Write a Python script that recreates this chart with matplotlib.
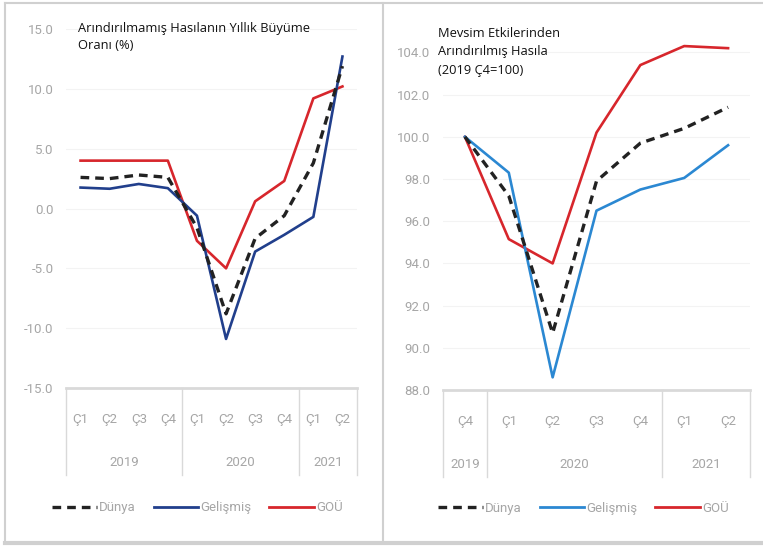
# Two panel chart: annual growth and seasonally adjusted output.

import matplotlib
matplotlib.use("Agg")
from matplotlib import pyplot as plt
from matplotlib import font_manager
from matplotlib.lines import Line2D

W, H = 763, 547

# left panel data (yearly growth, %)
cats_left = ["Ç1", "Ç2", "Ç3", "Ç4", "Ç1", "Ç2", "Ç3", "Ç4", "Ç1", "Ç2"]
years_left = ["2019", "2020", "2021"]
years_left_pos = [1.5, 5.5, 8.5]
dividers_left = [-0.5, 3.5, 7.5, 9.5]
dunya_yoy = [2.6, 2.5, 2.8, 2.6, -1.6, -8.8, -2.5, -0.6, 3.8, 11.9]
gelismis_yoy = [1.75, 1.65, 2.05, 1.7, -0.6, -10.9, -3.6, -2.2, -0.7, 12.7]
gou_yoy = [4.0, 4.0, 4.0, 4.0, -2.7, -5.0, 0.6, 2.3, 9.2, 10.2]
yticks_left = [-15, -10, -5, 0, 5, 10, 15]

# right panel data (2019 Ç4 = 100)
cats_right = ["Ç4", "Ç1", "Ç2", "Ç3", "Ç4", "Ç1", "Ç2"]
years_right = ["2019", "2020", "2021"]
years_right_pos = [0, 2.5, 5.5]
dividers_right = [-0.5, 0.5, 4.5, 6.5]
dunya_sa = [100.0, 97.2, 90.7, 97.9, 99.7, 100.4, 101.4]
gelismis_sa = [100.0, 98.3, 88.6, 96.5, 97.5, 98.05, 99.6]
gou_sa = [100.0, 95.15, 94.0, 100.2, 103.4, 104.3, 104.2]
yticks_right = [88, 90, 92, 94, 96, 98, 100, 102, 104]

installed = {f.name for f in font_manager.fontManager.ttflist}
if "Liberation Sans Narrow" in installed:
    TICK_FONT = ["Liberation Sans Narrow", "DejaVu Sans"]
    TICK_SIZE = 10
else:
    TICK_FONT = ["Roboto", "DejaVu Sans"]
    TICK_SIZE = 9.5
TITLE_FONT = ["Open Sans", "DejaVu Sans"]
GRAY = "#a6a6a6"
RED = "#d7262c"
NAVY = "#213f8c"
BLUE = "#2b88d2"
BLACK = "#222222"
DASH = (2.6, 1.8)


def px_axes(x0, y0, x1, y1):
    """Axes rectangle from pixel box (top-left origin)."""
    return [x0 / W, 1 - y1 / H, (x1 - x0) / W, (y1 - y0) / H]


def style_panel(ax, n, cats, years, years_pos, dividers, yticks, height_px):
    ax.set_xlim(-0.5, n - 0.5)
    for s in ["left", "right", "top"]:
        ax.spines[s].set_visible(False)
    ax.spines["bottom"].set_color("#d9d9d9")
    ax.spines["bottom"].set_linewidth(2)
    ax.set_xticks([])
    ax.set_yticks(yticks)
    ax.set_yticklabels([f"{v:.1f}" for v in yticks], family=TICK_FONT,
                       fontsize=TICK_SIZE, color=GRAY)
    ax.tick_params(axis="y", length=0, pad=9)
    for y in yticks:
        ax.axhline(y, color="#f3f3f3", lw=0.8, zorder=0)
    tr = ax.get_xaxis_transform()
    for i, c in enumerate(cats):
        ax.text(i, -32 / height_px, c, transform=tr, ha="center", va="center",
                family=TICK_FONT, fontsize=TICK_SIZE, color=GRAY)
    for x, y in zip(years_pos, years):
        ax.text(x, -74 / height_px, y, transform=tr, ha="center", va="center",
                family=TICK_FONT, fontsize=TICK_SIZE, color=GRAY)
    for d in dividers:
        ax.plot([d, d], [0, -87 / height_px], transform=tr, color="#d9d9d9",
                lw=1, clip_on=False)


def legend(ax, gel_color, x, y):
    handles = [
        Line2D([], [], color=BLACK, lw=2.4, dashes=DASH),
        Line2D([], [], color=gel_color, lw=2.0),
        Line2D([], [], color=RED, lw=2.0),
    ]
    leg = ax.legend(handles, ["Dünya", "Gelişmiş", "GOÜ"], loc="center",
                    bbox_to_anchor=(x, y), ncol=3, frameon=False,
                    handlelength=3.4, handletextpad=0.15, columnspacing=1.35,
                    prop={"family": TICK_FONT, "size": TICK_SIZE})
    for t in leg.get_texts():
        t.set_color(GRAY)


fig = plt.figure(figsize=(W / 100, H / 100), dpi=100)

# left panel
ax1 = fig.add_axes(px_axes(66, 29, 357, 388))
ax1.set_ylim(-15, 15)
x1 = range(len(cats_left))
ax1.plot(x1, gou_yoy, color=RED, lw=1.9, zorder=3)
ax1.plot(x1, gelismis_yoy, color=NAVY, lw=1.9, zorder=4)
ax1.plot(x1, dunya_yoy, color=BLACK, lw=2.4, dashes=DASH, zorder=5)
style_panel(ax1, len(cats_left), cats_left, years_left, years_left_pos,
            dividers_left, yticks_left, 359)
ax1.text(78 / W, 1 - 37 / H, "Arındırılmamış Hasılanın Yıllık Büyüme\nOranı (%)",
         transform=fig.transFigure, ha="left", va="center", family=TITLE_FONT,
         fontsize=9.3, color="#111111", linespacing=1.45)
legend(ax1, NAVY, 0.452, -0.334)

# right panel
ax2 = fig.add_axes(px_axes(443, 30, 750, 390))
ax2.set_ylim(88, 88 + 360 / 21.1)
x2 = range(len(cats_right))
ax2.plot(x2, gou_sa, color=RED, lw=1.9, zorder=3, clip_on=False)
ax2.plot(x2, gelismis_sa, color=BLUE, lw=1.9, zorder=4, clip_on=False)
ax2.plot(x2, dunya_sa, color=BLACK, lw=2.4, dashes=DASH, zorder=5)
style_panel(ax2, len(cats_right), cats_right, years_right, years_right_pos,
            dividers_right, yticks_right, 360)
ax2.text(438 / W, 1 - 52 / H, "Mevsim Etkilerinden\nArındırılmış Hasıla\n(2019 Ç4=100)",
         transform=fig.transFigure, ha="left", va="center", family=TITLE_FONT,
         fontsize=9.3, color="#111111", linespacing=1.55)
legend(ax2, BLUE, 0.458, -0.328)

# panel frames
frame = dict(transform=fig.transFigure, color="#d0d0d0")
fig.add_artist(Line2D([5 / W, 1], [1 - 3 / H, 1 - 3 / H], lw=1.5, **frame))
fig.add_artist(Line2D([5 / W, 1], [1 - 543 / H, 1 - 543 / H], lw=3, **frame))
fig.add_artist(Line2D([5 / W, 5 / W], [1 - 3 / H, 1 - 543 / H], lw=1.5, **frame))
fig.add_artist(Line2D([383 / W, 383 / W], [1 - 3 / H, 1 - 543 / H], lw=1.5, **frame))

fig.savefig("out.png", dpi=100)
